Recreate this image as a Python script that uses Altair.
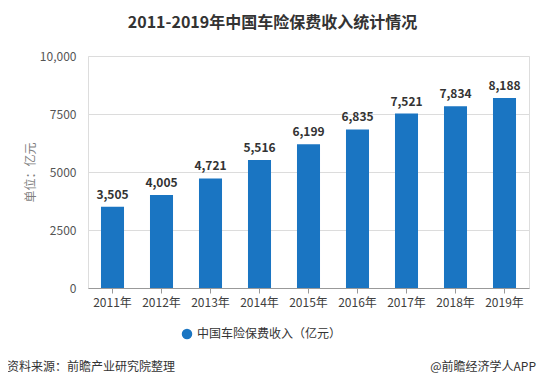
import altair as alt
import pandas as pd

years = ["2011年", "2012年", "2013年", "2014年", "2015年", "2016年", "2017年", "2018年", "2019年"]
values = [3505, 4005, 4721, 5516, 6199, 6835, 7521, 7834, 8188]
series_name = "中国车险保费收入（亿元）"
title_text = "2011-2019年中国车险保费收入统计情况"
source_text = "资料来源：前瞻产业研究院整理"
brand_text = "@前瞻经济学人APP"

FONT = "Noto Sans CJK SC"
BLUE = "#1A75C2"

df = pd.DataFrame({"year": years, "value": values, "series": [series_name] * len(years)})

base = alt.Chart(df)

bars = base.mark_bar(color=BLUE).encode(
    x=alt.X("year:N", sort=years,
            scale=alt.Scale(paddingInner=0.53, paddingOuter=0.265),
            axis=alt.Axis(title=None, labelAngle=0, labelFont=FONT, labelFontSize=12,
                          labelColor="#404040", labelPadding=4, tickSize=5,
                          tickColor="#999999", domainColor="#999999", grid=False)),
    y=alt.Y("value:Q", scale=alt.Scale(domain=[0, 10000], nice=False),
            axis=alt.Axis(title="单位：亿元", values=[0, 2500, 5000, 7500, 10000],
                          labelExpr="datum.value == 10000 ? '10,000' : '' + datum.value",
                          labelFont=FONT, labelFontSize=12, labelColor="#555555",
                          labelPadding=12, ticks=False, domain=False,
                          gridColor="#DCDCDC", titleFont=FONT, titleFontSize=12,
                          titleFontWeight="normal", titleColor="#7F7F7F",
                          titleX=-58, titleY=116, titleAlign="center",
                          titleBaseline="middle", titleAngle=-90)),
    color=alt.Color("series:N", scale=alt.Scale(domain=[series_name], range=[BLUE]),
                    legend=alt.Legend(title=None, orient="none", legendX=93, legendY=272,
                                      symbolType="circle", symbolSize=110,
                                      labelFont=FONT, labelFontSize=12,
                                      labelColor="#333333", symbolStrokeWidth=0)),
)

labels = base.mark_text(font=FONT, fontSize=12, fontWeight="bold", color="#333333",
                        baseline="bottom", dy=-5).encode(
    x=alt.X("year:N", sort=years),
    y="value:Q",
    text=alt.Text("value:Q", format=","),
)

source = alt.Chart(pd.DataFrame({"t": [source_text]})).mark_text(
    font=FONT, fontSize=12, color="#333333", align="left", baseline="middle").encode(
    x=alt.value(-81), y=alt.value(311), text="t:N")

brand = alt.Chart(pd.DataFrame({"t": [brand_text]})).mark_text(
    font=FONT, fontSize=12, color="#333333", align="right", baseline="middle").encode(
    x=alt.value(448), y=alt.value(311), text="t:N")

chart = alt.layer(bars, labels, source, brand).properties(
    width=441, height=232,
    title=alt.TitleParams(title_text, font=FONT, fontSize=16, fontWeight="bold",
                          color="#333333", anchor="middle", frame="group",
                          baseline="middle", offset=11, dx=-36),
    autosize=alt.AutoSizeParams(type="none"),
    padding={"left": 80, "top": 48, "right": 9, "bottom": 93},
).configure_view(stroke=None).configure(background="white")

chart.save("out.html", embed_options={"renderer": "svg", "actions": False})
